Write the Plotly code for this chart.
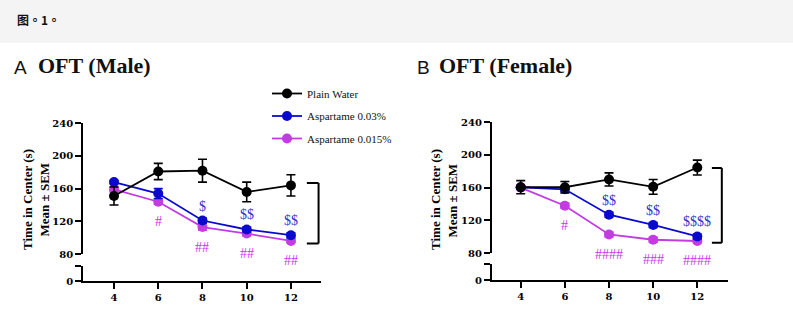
import plotly.graph_objects as go

weeks = [4, 6, 8, 10, 12]
series_names = ["Plain Water", "Aspartame 0.03%", "Aspartame 0.015%"]

# Male
male_water = [151, 181, 182, 156, 164]
male_water_err = [11, 10, 14, 12, 13]
male_a003 = [168, 154, 121, 110, 103]
male_a003_err = [2, 6, 3, 3, 3]
male_a0015 = [159, 144, 113, 105, 96]
male_a0015_err = [3, 3, 4, 3, 2]
male_sig_a003 = ["", "", "$", "$$", "$$"]
male_sig_a0015 = ["", "#", "##", "##", "##"]

# Female
female_water = [160.5, 160.5, 170, 161, 184.5]
female_water_err = [8, 7, 8, 9, 9]
female_a003 = [160.5, 158, 127, 114.5, 100.5]
female_a003_err = [2, 3, 3, 3, 3]
female_a0015 = [160, 138, 103, 96.5, 95]
female_a0015_err = [2, 3, 3, 3, 2]
female_sig_a003 = ["", "", "$$", "$$", "$$$$"]
female_sig_a0015 = ["", "#", "####", "###", "####"]

overall_sig = "****"
x_ticks = [4, 6, 8, 10, 12]
y_ticks = [80, 120, 160, 200, 240]

BLACK = "#000000"
BLUE = "#0a0acc"
PURPLE = "#c23ce2"
BLUE_TXT = "#3434cc"
PURPLE_TXT = "#cc33ee"
SERIF = "Liberation Serif"

W, H = 793, 333
fig = go.Figure()


def px_x(p):
    return p / W


def px_y(p):
    return 1 - p / H


panels = [
    dict(x="x", y="y", ylow="y2", water=male_water, werr=male_water_err, a3=male_a003, a3e=male_a003_err,
         a15=male_a0015, a15e=male_a0015_err, s3=male_sig_a003, s15=male_sig_a0015,
         legend=True, bracket=(167, 93), bx=(12.72, 13.25), starx=14.27),
    dict(x="x2", y="y3", ylow="y4", water=female_water, werr=female_water_err, a3=female_a003, a3e=female_a003_err,
         a15=female_a0015, a15e=female_a0015_err, s3=female_sig_a003, s15=female_sig_a0015,
         legend=False, bracket=(184, 93), bx=(12.66, 13.11), starx=14.12),
]

for p in panels:
    # empty trace so the lower (broken) axis segment is drawn
    fig.add_trace(go.Scatter(x=[], y=[], xaxis=p["x"], yaxis=p["ylow"], showlegend=False,
                             hoverinfo="skip", mode="markers"))
    specs = [
        (series_names[2], p["a15"], p["a15e"], PURPLE, 3),
        (series_names[1], p["a3"], p["a3e"], BLUE, 2),
        (series_names[0], p["water"], p["werr"], BLACK, 1),
    ]
    for name, vals, errs, col, rank in specs:
        fig.add_trace(go.Scatter(
            x=weeks, y=vals, name=name, mode="lines+markers",
            xaxis=p["x"], yaxis=p["y"],
            line=dict(color=col, width=1.8),
            marker=dict(color=col, size=10, symbol="circle"),
            error_y=dict(type="data", array=errs, visible=True, color=col, thickness=1.6, width=4.5),
            showlegend=p["legend"], legendrank=rank, legendgroup=name, cliponaxis=False,
        ))
    # significance labels
    for xv, yv, t in zip(weeks, p["a3"], p["s3"]):
        if t:
            fig.add_annotation(x=xv, y=yv, xref=p["x"], yref=p["y"], text=t, showarrow=False,
                               xanchor="center", yanchor="middle",
                               yshift=14.5, font=dict(family=SERIF, size=14, color=BLUE_TXT))
    for xv, yv, t in zip(weeks, p["a15"], p["s15"]):
        if t:
            fig.add_annotation(x=xv, y=yv, xref=p["x"], yref=p["y"], text=t, showarrow=False,
                               xanchor="center", yanchor="middle",
                               yshift=-20, font=dict(family=SERIF, size=14, color=PURPLE_TXT))
    # bracket
    top, bot = p["bracket"]
    x0, x1 = p["bx"]
    for (xa, ya, xb, yb) in [(x0, top, x1, top), (x1, top, x1, bot), (x0, bot, x1, bot)]:
        fig.add_shape(type="line", x0=xa, y0=ya, x1=xb, y1=yb, xref=p["x"], yref=p["y"],
                      line=dict(color="black", width=2))
    fig.add_annotation(x=p["starx"], y=(top + bot) / 2, xref=p["x"], yref=p["y"], text=overall_sig,
                       xanchor="center", yanchor="middle",
                       showarrow=False, font=dict(family="DejaVu Sans", size=16, color="black"))

axis_common = dict(showline=True, linecolor="black", linewidth=1.6, ticks="outside", ticklen=6,
                   tickwidth=1.6, tickcolor="black", showgrid=False, zeroline=False, automargin=False,
                   tickfont=dict(family="DejaVu Serif", size=10, color="black", weight="bold"))

fig.update_layout(
    width=W, height=H, margin=dict(l=0, r=0, t=0, b=0),
    paper_bgcolor="white", plot_bgcolor="white",
    xaxis=dict(domain=[px_x(83), px_x(321)], range=[2.597, 13.36], anchor="y2",
               tickvals=x_ticks, **axis_common),
    yaxis=dict(domain=[px_y(254), px_y(123.3)], range=[80, 240], anchor="x",
               tickvals=y_ticks, **axis_common),
    yaxis2=dict(domain=[px_y(281), px_y(265.7)], range=[0, 18.7], anchor="x",
                tickvals=[0, 18.7], ticktext=["0", ""], **axis_common),
    xaxis2=dict(domain=[px_x(491.7), px_x(728.3)], range=[2.686, 13.404], anchor="y4",
                tickvals=x_ticks, **axis_common),
    yaxis3=dict(domain=[px_y(253.3), px_y(122)], range=[80, 240], anchor="x2",
                tickvals=y_ticks, **axis_common),
    yaxis4=dict(domain=[px_y(280), px_y(264.3)], range=[0, 19.1], anchor="x2",
                tickvals=[0, 19.1], ticktext=["0", ""], **axis_common),
    legend=dict(x=px_x(267), y=px_y(79), xanchor="left", yanchor="top",
                font=dict(family=SERIF, size=11, color="#111"), bgcolor="rgba(0,0,0,0)",
                itemwidth=30, tracegroupgap=3.5),
)

# top band
fig.add_shape(type="rect", xref="paper", yref="paper", x0=0, x1=1, y0=px_y(43), y1=1,
              fillcolor="#f4f4f4", line=dict(width=0), layer="below")
fig.add_annotation(x=px_x(15), y=px_y(20), xref="paper", yref="paper", xanchor="left", yanchor="middle",
                   text="<b>图。1。</b>", showarrow=False,
                   font=dict(family="Noto Sans CJK TC", size=12, color="#111"))

# panel titles
for lx, tx, letter, title in [(12, 36, "A", "OFT (Male)"), (415, 437, "B", "OFT (Female)")]:
    fig.add_annotation(x=px_x(lx), y=px_y(67), xref="paper", yref="paper", xanchor="left", yanchor="middle",
                       text=letter, showarrow=False,
                       font=dict(family="Liberation Sans", size=19, color="#111"))
    fig.add_annotation(x=px_x(tx), y=px_y(66), xref="paper", yref="paper", xanchor="left", yanchor="middle",
                       text="<b>" + title + "</b>", showarrow=False,
                       font=dict(family=SERIF, size=22, color="#111"))

# y-axis titles
for x1, x2, yc in [(27, 43.5, 200), (435, 451.5, 200)]:
    fig.add_annotation(x=px_x(x1), y=px_y(yc), xref="paper", yref="paper", text="<b>Time in Center (s)</b>",
                       xanchor="center", yanchor="middle",
                       textangle=-90, showarrow=False, font=dict(family=SERIF, size=13, color="black"))
    fig.add_annotation(x=px_x(x2), y=px_y(yc), xref="paper", yref="paper", text="<b>Mean ± SEM</b>",
                       xanchor="center", yanchor="middle",
                       textangle=-90, showarrow=False, font=dict(family=SERIF, size=13, color="black"))

fig.write_html("out.html")
